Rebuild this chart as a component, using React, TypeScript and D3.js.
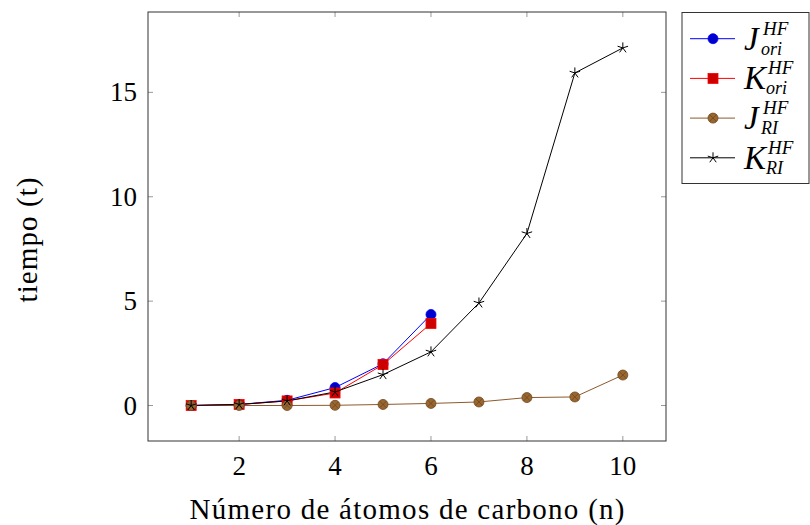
import React from "react";
import * as d3 from "d3";

const carbonos = [1, 2, 3, 4, 5, 6, 7, 8, 9, 10];
const jOri = [0.0, 0.05, 0.25, 0.86, 2.0, 4.36];
const kOri = [0.0, 0.05, 0.22, 0.6, 1.96, 3.93];
const jRI = [0.0, 0.0, 0.0, 0.01, 0.05, 0.1, 0.17, 0.38, 0.41, 1.46];
const kRI = [0.0, 0.05, 0.22, 0.65, 1.48, 2.57, 4.91, 8.24, 15.93, 17.13];
const xTicks = [2, 4, 6, 8, 10];
const yTicks = [0, 5, 10, 15];

const series = [
  { name: "J", sub: "ori", values: jOri, line: "#0000ff", fill: "#0000cc", stroke: "#0000ff", mark: "circle" },
  { name: "K", sub: "ori", values: kOri, line: "#ff0000", fill: "#cc0000", stroke: "#ff0000", mark: "square" },
  { name: "J", sub: "RI", values: jRI, line: "#8c5a2c", fill: "#99662e", stroke: "#6e4622", mark: "otimes" },
  { name: "K", sub: "RI", values: kRI, line: "#000000", fill: "none", stroke: "#000000", mark: "star" },
];

const FONT = "'Liberation Serif', 'DejaVu Serif', serif";

function Marker({ kind, cx, cy, fill, stroke }: any) {
  if (kind === "circle") return <circle cx={cx} cy={cy} r={5} fill={fill} stroke={stroke} strokeWidth={0.8} />;
  if (kind === "square") return <rect x={cx - 5} y={cy - 5} width={10} height={10} fill={fill} stroke={stroke} strokeWidth={0.8} />;
  if (kind === "otimes") {
    const d = 3.5;
    return (
      <g>
        <circle cx={cx} cy={cy} r={5} fill={fill} stroke={stroke} strokeWidth={0.8} />
        <path d={`M${cx - d},${cy - d}L${cx + d},${cy + d}M${cx - d},${cy + d}L${cx + d},${cy - d}`} stroke={stroke} strokeWidth={0.8} />
      </g>
    );
  }
  const arms = d3.range(5).map((k) => {
    const a = (-90 + 72 * k) * Math.PI / 180;
    return `M${cx},${cy}L${cx + 5.5 * Math.cos(a)},${cy + 5.5 * Math.sin(a)}`;
  });
  return <path d={arms.join("")} stroke={stroke} strokeWidth={1} fill="none" />;
}

export default function App() {
  const left = 148, right = 666, top = 12, bottom = 441;
  const x = d3.scaleLinear().domain([0.1, 10.9]).range([left, right]);
  const y = d3.scaleLinear().domain([-1.7, 18.85]).range([bottom, top]);
  const line = d3.line<number>().x((_, i) => x(carbonos[i])).y((d) => y(d));

  return (
    <svg width={810} height={525} style={{ position: "absolute", left: 0, top: 0, background: "#fff" }} fontFamily={FONT}>
      {/* ticks */}
      {xTicks.map((t) => (
        <g key={"x" + t}>
          <line x1={x(t)} x2={x(t)} y1={bottom} y2={bottom - 5} stroke="#999" />
          <line x1={x(t)} x2={x(t)} y1={top} y2={top + 5} stroke="#999" />
          <text x={x(t)} y={466} fontSize={27} textAnchor="middle" dominantBaseline="central">{t}</text>
        </g>
      ))}
      {yTicks.map((t) => (
        <g key={"y" + t}>
          <line x1={left} x2={left + 5} y1={y(t)} y2={y(t)} stroke="#999" />
          <line x1={right} x2={right - 5} y1={y(t)} y2={y(t)} stroke="#999" />
          <text x={137} y={y(t)} fontSize={27} textAnchor="end" dominantBaseline="central">{t}</text>
        </g>
      ))}

      <defs>
        <clipPath id="plot">
          <rect x={left} y={top} width={right - left} height={bottom - top} />
        </clipPath>
      </defs>
      <g clipPath="url(#plot)">
        {series.map((s, i) => (
          <path key={"l" + i} d={line(s.values) || ""} fill="none" stroke={s.line} strokeWidth={1} />
        ))}
        {series.map((s, i) =>
          s.values.map((v, j) => (
            <Marker key={`m${i}-${j}`} kind={s.mark} cx={x(carbonos[j])} cy={y(v)} fill={s.fill} stroke={s.stroke} />
          ))
        )}
      </g>
      <rect x={left} y={top} width={right - left} height={bottom - top} fill="none" stroke="#333" strokeWidth={1} />

      <text x={(left + right) / 2} y={519} fontSize={29} textAnchor="middle" textLength={435}>
        Número de átomos de carbono (n)
      </text>
      <text transform={`translate(27,240) rotate(-90)`} fontSize={29} textAnchor="middle" dominantBaseline="central" textLength={125}>
        tiempo (t)
      </text>

      {/* legend */}
      <rect x={682} y={12.5} width={127} height={171} fill="#fff" stroke="#333" strokeWidth={1} />
      {series.map((s, i) => {
        const cy = 38.7 + i * 39.7;
        const off = s.name === "J" ? 0 : 5;
        return (
          <g key={"lg" + i}>
            <line x1={690} x2={735} y1={cy} y2={cy} stroke={s.line} strokeWidth={1} />
            <Marker kind={s.mark} cx={713} cy={cy} fill={s.fill} stroke={s.stroke} />
            <text x={744} y={cy + 11} fontSize={33} fontStyle="italic">{s.name}</text>
            <text x={763 + off} y={cy - 4} fontSize={19} fontStyle="italic">HF</text>
            <text x={761 + off} y={cy + 16} fontSize={18} fontStyle="italic">{s.sub}</text>
          </g>
        );
      })}
    </svg>
  );
}
